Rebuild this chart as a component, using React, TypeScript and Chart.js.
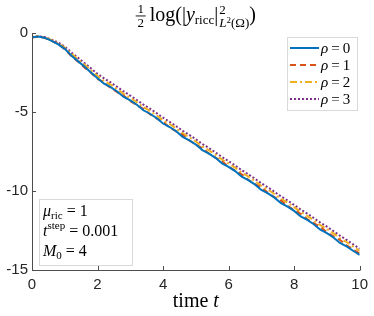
import React, { useEffect, useRef } from "react";
import { Chart, registerables } from "chart.js";

Chart.register(...registerables);

const TIME = [
  0, 0.2, 0.4, 0.6, 0.8, 1, 1.2, 1.4, 1.6, 1.8, 2, 2.2, 2.4, 2.6, 2.8, 3, 3.2, 3.4, 3.6, 3.8, 4,
  4.2, 4.4, 4.6, 4.8, 5, 5.2, 5.4, 5.6, 5.8, 6, 6.2, 6.4, 6.6, 6.8, 7, 7.2, 7.4, 7.6, 7.8, 8,
  8.2, 8.4, 8.6, 8.8, 9, 9.2, 9.4, 9.6, 9.8, 10,
];

const RHO0 = [
  -0.27, -0.22, -0.31, -0.5, -0.72, -1.0, -1.42, -1.78, -2.12, -2.5, -2.86, -3.21, -3.43, -3.7,
  -4.05, -4.27, -4.54, -4.89, -5.11, -5.38, -5.73, -5.95, -6.22, -6.57, -6.79, -7.06, -7.41,
  -7.63, -7.9, -8.25, -8.47, -8.74, -9.09, -9.31, -9.58, -9.93, -10.15, -10.42, -10.77, -10.99,
  -11.26, -11.61, -11.83, -12.1, -12.45, -12.67, -12.94, -13.29, -13.51, -13.78, -14.05,
];

const RHO1 = [
  -0.28, -0.23, -0.32, -0.5, -0.7, -1.02, -1.46, -1.8, -2.18, -2.52, -2.9, -3.14, -3.48, -3.74,
  -3.97, -4.31, -4.57, -4.8, -5.14, -5.4, -5.63, -5.97, -6.23, -6.46, -6.8, -7.06, -7.29, -7.63,
  -7.89, -8.12, -8.46, -8.72, -8.95, -9.29, -9.55, -9.78, -10.12, -10.38, -10.61, -10.95, -11.21,
  -11.44, -11.78, -12.04, -12.27, -12.61, -12.87, -13.1, -13.44, -13.7, -13.95,
];

const RHO2 = [
  -0.27, -0.21, -0.29, -0.46, -0.66, -0.92, -1.3, -1.66, -2.0, -2.36, -2.72, -3.03, -3.27, -3.55,
  -3.86, -4.1, -4.38, -4.69, -4.93, -5.21, -5.52, -5.76, -6.04, -6.35, -6.59, -6.87, -7.18, -7.42,
  -7.7, -8.01, -8.25, -8.53, -8.84, -9.08, -9.36, -9.67, -9.91, -10.19, -10.5, -10.74, -11.02,
  -11.33, -11.57, -11.85, -12.16, -12.4, -12.68, -12.99, -13.23, -13.51, -13.8,
];

const RHO3 = [
  -0.26, -0.2, -0.27, -0.42, -0.6, -0.86, -1.22, -1.56, -1.9, -2.24, -2.58, -2.87, -3.13, -3.41,
  -3.7, -3.96, -4.24, -4.53, -4.79, -5.07, -5.36, -5.62, -5.9, -6.19, -6.45, -6.73, -7.02, -7.28,
  -7.56, -7.85, -8.11, -8.39, -8.68, -8.94, -9.22, -9.51, -9.77, -10.05, -10.34, -10.6, -10.88,
  -11.17, -11.43, -11.71, -12.0, -12.26, -12.54, -12.83, -13.09, -13.37, -13.66,
];

const SERIES = [RHO0, RHO1, RHO2, RHO3];
const LEGEND_VALUES = ["0", "1", "2", "3"];
const COLORS = ["#0072BD", "#D95319", "#EDB120", "#7E2F8E"];
const DASHES: number[][] = [[], [6, 4], [7, 3, 2, 3], [2, 2]];

const X_TICKS = [0, 2, 4, 6, 8, 10];
const Y_TICKS = [0, -5, -10, -15];

const SERIF = '"Liberation Serif", "DejaVu Serif", serif';
const SANS = '"Liberation Sans", Arial, sans-serif';
const AXIS_COLOR = "#4d4d4d";
const TEXT_COLOR = "#262626";

function sf(size: number, italic = false) {
  return `${italic ? "italic " : ""}${size}px ${SERIF}`;
}

type Piece = { t: string; font: string; dy?: number; gap?: number };

function drawPieces(ctx: CanvasRenderingContext2D, pieces: Piece[], x: number, y: number) {
  let cx = x;
  for (const p of pieces) {
    ctx.font = p.font;
    ctx.fillText(p.t, cx, y + (p.dy || 0));
    cx += ctx.measureText(p.t).width + (p.gap || 0);
  }
  return cx;
}

function widthPieces(ctx: CanvasRenderingContext2D, pieces: Piece[]) {
  let w = 0;
  for (const p of pieces) {
    ctx.font = p.font;
    w += ctx.measureText(p.t).width + (p.gap || 0);
  }
  return w;
}

function eqPieces(value: string, size: number): Piece[] {
  return [
    { t: "", font: sf(size), gap: 4 },
    { t: "=", font: sf(size), gap: 4 },
    { t: value, font: sf(size) },
  ];
}

const overlay = {
  id: "overlay",
  afterDraw(chart: any) {
    const ctx: CanvasRenderingContext2D = chart.ctx;
    const xs = chart.scales.x;
    const ys = chart.scales.y;
    const ca = chart.chartArea;
    ctx.save();

    // axis lines (box off)
    ctx.strokeStyle = AXIS_COLOR;
    ctx.lineWidth = 1;
    ctx.beginPath();
    ctx.moveTo(Math.round(ca.left) + 0.5, Math.round(ca.top));
    ctx.lineTo(Math.round(ca.left) + 0.5, Math.round(ca.bottom) + 0.5);
    ctx.lineTo(Math.round(ca.right) + 0.5, Math.round(ca.bottom) + 0.5);
    ctx.stroke();

    // inward ticks
    ctx.beginPath();
    for (const v of X_TICKS) {
      const px = Math.round(xs.getPixelForValue(v)) + 0.5;
      ctx.moveTo(px, Math.round(ca.bottom));
      ctx.lineTo(px, Math.round(ca.bottom) - 4);
    }
    for (const v of Y_TICKS) {
      const py = Math.round(ys.getPixelForValue(v)) + 0.5;
      ctx.moveTo(Math.round(ca.left), py);
      ctx.lineTo(Math.round(ca.left) + 4, py);
    }
    ctx.stroke();

    ctx.fillStyle = "#000";
    ctx.textBaseline = "alphabetic";
    ctx.textAlign = "left";

    // title
    const cxTitle = (ca.left + ca.right) / 2;
    const base = 21;
    const big = 20;
    const small = 13;
    const mainA: Piece[] = [
      { t: "log(|", font: sf(big) },
      { t: "y", font: sf(big, true) },
      { t: "ricc", font: sf(small), dy: 3 },
      { t: "|", font: sf(big) },
    ];
    ctx.font = sf(small);
    const supW = ctx.measureText("2").width;
    const subPieces: Piece[] = [
      { t: "L", font: sf(small, true) },
      { t: "2", font: sf(9), dy: -4 },
      { t: "(Ω)", font: sf(small) },
    ];
    const subW = widthPieces(ctx, subPieces);
    ctx.font = sf(big);
    const closeW = ctx.measureText(")").width;
    const fracW = 10;
    const totalW = fracW + 4 + widthPieces(ctx, mainA) + 1 + Math.max(supW, subW) + closeW;
    let tx = cxTitle - totalW / 2;
    // fraction 1/2
    ctx.font = sf(small);
    ctx.textAlign = "center";
    ctx.fillText("1", tx + fracW / 2, 13);
    ctx.fillText("2", tx + fracW / 2, 27);
    ctx.textAlign = "left";
    ctx.fillRect(tx, 15.5, fracW, 0.9);
    tx += fracW + 4;
    tx = drawPieces(ctx, mainA, tx, base);
    tx += 1;
    ctx.font = sf(small);
    ctx.fillText("2", tx, base - 7);
    drawPieces(ctx, subPieces, tx, base + 6);
    tx += Math.max(supW, subW);
    ctx.font = sf(big);
    ctx.fillText(")", tx, base);

    // x-axis title
    const xt: Piece[] = [
      { t: "time ", font: sf(20) },
      { t: "t", font: sf(20, true) },
    ];
    const xtw = widthPieces(ctx, xt);
    drawPieces(ctx, xt, cxTitle - xtw / 2, 307);

    // legend box
    const lx = 287, ly = 37, lw = 70, lh = 73;
    ctx.fillStyle = "#fff";
    ctx.fillRect(lx, ly, lw, lh);
    ctx.strokeStyle = "#d9d9d9";
    ctx.lineWidth = 1;
    ctx.strokeRect(lx + 0.5, ly + 0.5, lw, lh);
    const rows = [48, 65, 82, 99];
    for (let i = 0; i < 4; i++) {
      const ry = rows[i];
      ctx.strokeStyle = COLORS[i];
      ctx.lineWidth = 2;
      ctx.setLineDash(DASHES[i]);
      ctx.beginPath();
      ctx.moveTo(290, ry);
      ctx.lineTo(319, ry);
      ctx.stroke();
      ctx.setLineDash([]);
      ctx.fillStyle = "#000";
      drawPieces(
        ctx,
        [{ t: "ρ", font: sf(15, true) }, ...eqPieces(LEGEND_VALUES[i], 15).map((p) => ({ ...p, gap: p.gap ? 3 : 0 }))],
        321,
        ry + 5
      );
    }

    // parameter box
    const bx = 39, by = 199, bw = 93, bh = 66;
    ctx.fillStyle = "#fff";
    ctx.fillRect(bx, by, bw, bh);
    ctx.strokeStyle = "#d9d9d9";
    ctx.lineWidth = 1;
    ctx.strokeRect(bx + 0.5, by + 0.5, bw, bh);
    ctx.fillStyle = "#000";
    const pf = 16;
    const ps = 11;
    drawPieces(
      ctx,
      [{ t: "μ", font: sf(pf, true) }, { t: "ric", font: sf(ps), dy: 3 }, ...eqPieces("1", pf)],
      43,
      216
    );
    drawPieces(
      ctx,
      [{ t: "t", font: sf(pf, true) }, { t: "step", font: sf(ps), dy: -7 }, ...eqPieces("0.001", pf)],
      43,
      236
    );
    drawPieces(
      ctx,
      [{ t: "M", font: sf(pf, true) }, { t: "0", font: sf(ps), dy: 3 }, ...eqPieces("4", pf)],
      43,
      256
    );

    ctx.restore();
  },
};

export default function App() {
  const ref = useRef<HTMLCanvasElement | null>(null);
  useEffect(() => {
    if (!ref.current) return;
    const chart = new Chart(ref.current, {
      type: "line",
      data: {
        datasets: SERIES.map((s, i) => ({
          label: "rho = " + LEGEND_VALUES[i],
          data: TIME.map((t, j) => ({ x: t, y: s[j] })),
          borderColor: COLORS[i],
          backgroundColor: COLORS[i],
          borderWidth: 2,
          borderDash: DASHES[i],
          pointRadius: 0,
          tension: 0,
          fill: false,
        })),
      },
      options: {
        responsive: false,
        animation: false,
        devicePixelRatio: 1,
        layout: { padding: { top: 33, right: 10, left: 0, bottom: 0 } },
        plugins: { legend: { display: false }, tooltip: { enabled: false }, title: { display: false } },
        scales: {
          x: {
            type: "linear",
            min: 0,
            max: 10,
            grid: { display: false, drawTicks: false },
            border: { display: false },
            ticks: {
              stepSize: 2,
              padding: 6,
              maxRotation: 0,
              font: { family: SANS, size: 15 },
              color: TEXT_COLOR,
            },
            afterFit: (s: any) => {
              s.height = 46;
            },
          },
          y: {
            type: "linear",
            min: -15,
            max: 0,
            grid: { display: false, drawTicks: false },
            border: { display: false },
            ticks: {
              stepSize: 5,
              padding: 4,
              font: { family: SANS, size: 15 },
              color: TEXT_COLOR,
            },
            afterFit: (s: any) => {
              s.width = 32;
            },
          },
        },
      },
      plugins: [overlay],
    });
    return () => chart.destroy();
  }, []);
  return (
    <div style={{ position: "fixed", left: 0, top: 0, width: 374, height: 316, background: "#fff" }}>
      <canvas ref={ref} width={374} height={316} style={{ width: 374, height: 316, display: "block" }} />
    </div>
  );
}
